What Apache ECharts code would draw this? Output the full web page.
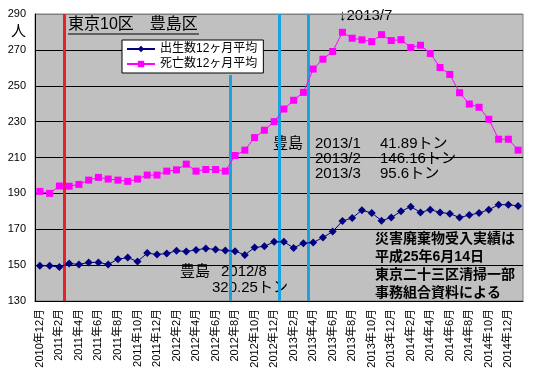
<!DOCTYPE html>
<html><head><meta charset="utf-8">
<script src="https://cdn.jsdelivr.net/npm/echarts@6/dist/echarts.min.js"></script>
<style>html,body{margin:0;padding:0;background:#fff}#c{width:534px;height:375px}</style>
</head><body><div id="c"></div>
<script>
const months = ["2010年12月","2011年1月","2011年2月","2011年3月","2011年4月","2011年5月","2011年6月","2011年7月","2011年8月","2011年9月","2011年10月","2011年11月","2011年12月","2012年1月","2012年2月","2012年3月","2012年4月","2012年5月","2012年6月","2012年7月","2012年8月","2012年9月","2012年10月","2012年11月","2012年12月","2013年1月","2013年2月","2013年3月","2013年4月","2013年5月","2013年6月","2013年7月","2013年8月","2013年9月","2013年10月","2013年11月","2013年12月","2014年1月","2014年2月","2014年3月","2014年4月","2014年5月","2014年6月","2014年7月","2014年8月","2014年9月","2014年10月","2014年11月","2014年12月","2015年1月"];
const births = [149.6,149.6,149.0,150.9,150.4,151.5,151.5,150.4,153.3,154.2,152.0,156.7,155.9,156.5,158.0,157.6,158.5,159.3,158.7,158.1,157.8,155.7,159.8,160.5,163.0,163.0,159.6,162.2,162.6,165.4,168.7,174.6,176.3,180.6,179.1,174.8,176.5,180.0,182.6,179.4,180.9,179.4,178.7,176.5,177.9,179.1,180.9,183.7,183.7,183.0];
const deaths = [191.1,190.0,194.1,194.0,195.0,197.4,198.9,198.0,197.4,196.7,198.0,200.2,200.2,202.4,203.1,206.3,202.4,203.3,203.3,202.4,211.1,214.1,221.1,225.2,230.0,237.0,241.9,246.3,259.3,264.8,269.1,279.8,276.5,275.6,274.6,278.5,275.2,275.7,271.3,272.6,268.0,260.2,256.3,246.1,239.8,238.0,231.3,220.2,220.2,214.1];
const seriesNames = ["出生数12ヶ月平均","死亡数12ヶ月平均"];
const yTicks = {min:130, max:290, step:20};
// event markers (month boundary position from start, top value)
const eventPos = [3, 20, 25, 28];
const eventTop = [290, 256, 290, 290];
const eventColor = ["#e8202a","#1aa2e0","#1aa2e0","#1aa2e0"];

const JP = "'Liberation Sans','Noto Sans CJK JP',sans-serif";
const chart = echarts.init(document.getElementById('c'), null, {renderer:'canvas'});
const nLines = (yTicks.max - yTicks.min)/yTicks.step + 1;
const splitColors = [];
for (let i=0;i<nLines;i++) splitColors.push(i===nLines-1 ? '#808080' : '#000');

const markData = eventPos.map((p,i)=>[
  {coord:[p, eventTop[i]], lineStyle:{color:eventColor[i], width:3, type:'solid'}},
  {coord:[p, yTicks.min]}
]);

function txt(text, left, top, size, bold){
  return {type:'text', left:left, top:top, silent:true,
    style:{text:text, fill:'#000', font:(bold?'bold ':'')+size+'px '+JP}};
}

chart.setOption({
  animation:false,
  backgroundColor:'#fff',
  grid:{left:35, right:11, top:14, bottom:74, show:true, backgroundColor:'#c0c0c0', borderColor:'#808080', borderWidth:1},
  legend:{
    left:122, top:40, orient:'vertical', padding:[3,6,3,4], itemGap:3,
    itemWidth:28, itemHeight:8,
    backgroundColor:'#fff', borderColor:'#000', borderWidth:1, borderRadius:0,
    textStyle:{fontSize:12, color:'#000', fontFamily:JP},
    data:seriesNames
  },
  xAxis:[{
    type:'category', data:months, boundaryGap:true,
    axisLine:{lineStyle:{color:'#000', width:1}},
    axisTick:{interval:1, length:4, lineStyle:{color:'#000'}},
    axisLabel:{interval:1, rotate:90, fontSize:11, color:'#000', margin:8, fontFamily:JP},
    splitLine:{show:false}
  },{
    type:'value', min:0, max:months.length, show:false
  }],
  yAxis:{
    type:'value', min:yTicks.min, max:yTicks.max, interval:yTicks.step,
    axisLine:{show:true, lineStyle:{color:'#000'}},
    axisTick:{show:false},
    axisLabel:{fontSize:11, color:'#000', margin:9, fontFamily:"'Liberation Sans',sans-serif"},
    splitLine:{show:true, lineStyle:{color:splitColors, width:1}}
  },
  series:[
    {name:seriesNames[0], type:'line', data:births, symbol:'diamond', symbolSize:8, showAllSymbol:true,
     lineStyle:{color:'#000080', width:1}, itemStyle:{color:'#000080'}, z:5},
    {name:seriesNames[1], type:'line', data:deaths, symbol:'rect', symbolSize:7, showAllSymbol:true,
     lineStyle:{color:'#ff00ff', width:1}, itemStyle:{color:'#ff00ff'}, z:5},
    {name:'events', type:'line', xAxisIndex:1, data:[], z:4,
     markLine:{silent:true, symbol:['none','none'], label:{show:false}, data:markData}}
  ],
  graphic:[
    txt('東京10区　豊島区', 68, 17, 16),
    {type:'line', silent:true, shape:{x1:68,y1:34,x2:199,y2:34}, style:{stroke:'#000', lineWidth:1}},
    txt('人', 11, 24, 15),
    txt('↓2013/7', 339, 8, 15),
    txt('豊島', 273, 136, 15), txt('2013/1', 315, 136, 15), txt('41.89トン', 380, 136, 15),
    txt('2013/2', 315, 151, 15), txt('146.16トン', 380, 151, 15),
    txt('2013/3', 315, 166, 15), txt('95.6トン', 380, 166, 15),
    txt('豊島', 180, 264, 15), txt('2012/8', 221, 264, 15),
    txt('320.25トン', 212, 280, 15),
    txt('災害廃棄物受入実績は', 375, 232, 14, true),
    txt('平成25年6月14日', 375, 250, 14, true),
    txt('東京二十三区清掃一部', 375, 268, 14, true),
    txt('事務組合資料による', 375, 286, 14, true)
  ]
});
</script></body></html>
